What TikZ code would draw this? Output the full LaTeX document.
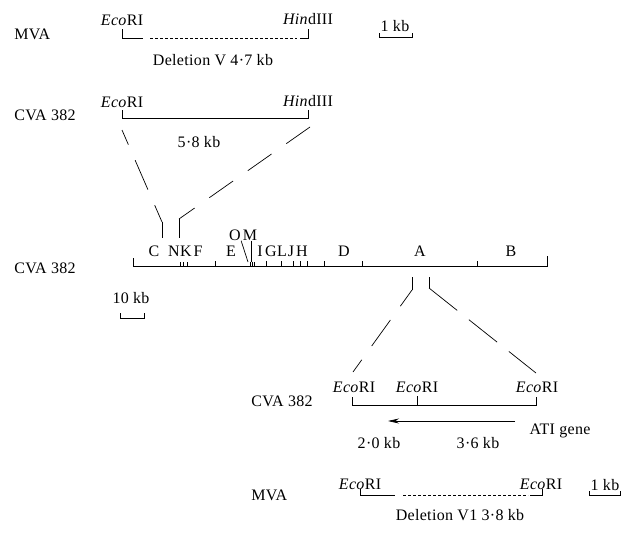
\documentclass[tikz,border=0pt]{standalone}
\usepackage{fontspec}
\setmainfont{Liberation Serif}[LetterSpace=2]
\usetikzlibrary{arrows.meta}

\tikzset{
  lbl/.style={inner sep=0pt, font=\fontsize{16}{18}\selectfont},
  rowlbl/.style={lbl, anchor=west},
  dele/.style={dash pattern=on 3pt off 2pt},
  zoomline/.style={dash pattern=on 32pt off 17pt},
}

\begin{document}
\begin{tikzpicture}[x=1pt, y=-1pt, line width=0.7pt]

  \useasboundingbox (0,0) rectangle (627,533);

  % MVA, deletion V
  \node[rowlbl] (mvaTop) at (14,34) {MVA};
  \node[lbl] (ecoTopA) at (122,20) {\textit{Eco}RI};
  \node[lbl] (hindTopA) at (308,19) {\textit{Hin}dIII};
  \draw (122,29) -- (122,38) -- (143,38);
  \draw[dele] (150,38) -- (297,38);
  \draw (300,38) -- (308,38) -- (308,29);
  \node[lbl] (delV) at (213,60) {Deletion V 4·7 kb};
  \node[lbl] (kbTop) at (395,26) {1 kb};
  \draw (379,33) -- (379,37) -- (412,37) -- (412,33);

  % CVA 382, EcoRI-HindIII fragment
  \node[rowlbl] (cvaTop) at (14,115) {CVA 382};
  \node[lbl] (ecoTopB) at (122,102) {\textit{Eco}RI};
  \node[lbl] (hindTopB) at (308,101) {\textit{Hin}dIII};
  \draw (122,110) -- (122,118) -- (308,118) -- (308,110);
  \node[lbl] (kb58) at (199,142) {5·8 kb};

  % zoom lines to the genome map
  \coordinate (upL) at (122,130);
  \coordinate (kneeUL) at (162,222);
  \coordinate (footUL) at (162,238);
  \coordinate (upR) at (310,127);
  \coordinate (kneeUR) at (179,219);
  \coordinate (footUR) at (179,238);
  \draw[zoomline, dash phase=16pt] (upL) -- (kneeUL);
  \draw (kneeUL) -- (footUL);
  \draw[zoomline, dash pattern=on 29pt off 18pt] (upR) -- (kneeUR);
  \draw (kneeUR) -- (footUR);

  % HindIII map of CVA 382
  \node[rowlbl] (cvaMap) at (14,268) {CVA 382};
  \draw (133,258) -- (133,266) -- (547,266) -- (547,256);
  \foreach \x in {215,266,281,293,300,307,324,362,477}
    \draw (\x,261) -- (\x,266);
  \foreach \x in {180,183,187,250,252,254}
    \draw (\x,262) -- (\x,266);
  \foreach \frag/\x in {C/154,N/174,K/186,F/198,E/231,I/260,G/271,L/282,J/291,H/302,D/344,A/420,B/511}
    \node[lbl] (frag\frag) at (\x,251) {\frag};
  \node[lbl] (fragO) at (235,235) {O};
  \node[lbl] (fragM) at (250,235) {M};
  \coordinate (siteO) at (248,262);
  \coordinate (siteM) at (251,262);
  \draw (fragO.south east) -- (siteO);
  \draw (siteM |- fragM.south) -- (siteM);
  \node[lbl] (kbMap) at (131,298) {10 kb};
  \draw (120,313) -- (120,318) -- (144,318) -- (144,313);

  % zoom lines to fragment A
  \coordinate (downL) at (412,277);
  \coordinate (kneeDL) at (412,290);
  \coordinate (endDL) at (353,372);
  \coordinate (downR) at (429,277);
  \coordinate (kneeDR) at (429,288);
  \coordinate (endDR) at (536,373);
  \draw (downL) -- (kneeDL);
  \draw[zoomline, dash phase=12pt] (kneeDL) -- (endDL);
  \draw (downR) -- (kneeDR);
  \draw[zoomline, dash pattern=on 36pt off 15pt] (kneeDR) -- (endDR);

  % CVA 382, EcoRI fragments with ATI gene
  \node[rowlbl] (cvaLow) at (251,401) {CVA 382};
  \node[lbl] (ecoLowA) at (354,387) {\textit{Eco}RI};
  \node[lbl] (ecoLowB) at (417,387) {\textit{Eco}RI};
  \node[lbl] (ecoLowC) at (537,387) {\textit{Eco}RI};
  \draw (352,397) -- (352,405) -- (536,405) -- (536,397);
  \draw (417,396) -- (417,405);
  \coordinate (atiStart) at (515,421);
  \coordinate (atiEnd) at (388,421);
  \draw[-{Stealth[length=11pt,width=5pt]}] (atiStart) -- (atiEnd);
  \node[lbl] (atiGene) at (560,431) {ATI gene};
  \node[lbl] (kb20) at (379,443) {2·0 kb};
  \node[lbl] (kb36) at (478,443) {3·6 kb};

  % MVA, deletion VI
  \node[rowlbl] (mvaLow) at (251,495) {MVA};
  \node[lbl] (ecoLowD) at (360,484) {\textit{Eco}RI};
  \node[lbl] (ecoLowE) at (541,484) {\textit{Eco}RI};
  \draw (360,489) -- (360,495) -- (395,495);
  \draw[dele] (403,495) -- (528,495);
  \draw (530,495) -- (542,495) -- (542,489);
  \node[lbl] (kbLow) at (605,485) {1 kb};
  \draw (589,491) -- (589,495) -- (620,495) -- (620,491);
  \node[lbl] (delVI) at (460,515) {Deletion V1 3·8 kb};

\end{tikzpicture}
\end{document}
